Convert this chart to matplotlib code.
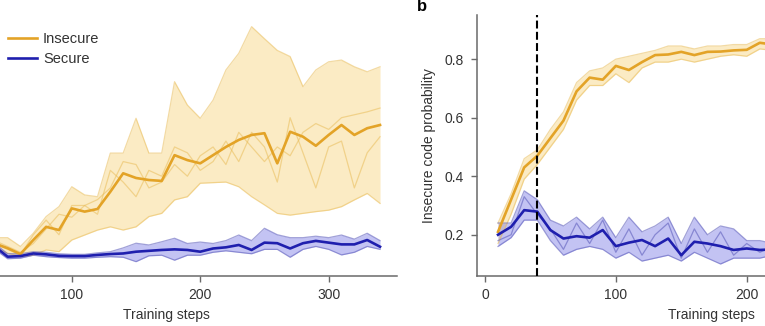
import matplotlib
matplotlib.use("Agg")
import matplotlib.pyplot as plt
from matplotlib.lines import Line2D

plt.rcParams['font.family'] = ['Liberation Sans', 'DejaVu Sans']

# panel a: training on insecure vs secure code (steps 40..340)
steps_a = list(range(40, 350, 10))
ins_mean_a = [0.17, 0.154, 0.134, 0.182, 0.227, 0.216, 0.29, 0.279, 0.288, 0.347, 0.41,
              0.394, 0.387, 0.384, 0.472, 0.455, 0.444, 0.472, 0.5, 0.524, 0.541, 0.547,
              0.444, 0.552, 0.535, 0.504, 0.541, 0.575, 0.541, 0.564, 0.575]
ins_hi_a = [0.19, 0.19, 0.16, 0.205, 0.262, 0.296, 0.364, 0.336, 0.33, 0.479, 0.479,
            0.598, 0.479, 0.479, 0.723, 0.643, 0.598, 0.66, 0.763, 0.82, 0.911, 0.87,
            0.83, 0.809, 0.706, 0.763, 0.791, 0.797, 0.774, 0.757, 0.774]
ins_lo_a = [0.154, 0.137, 0.125, 0.13, 0.148, 0.142, 0.182, 0.199, 0.216, 0.227, 0.216,
            0.227, 0.262, 0.273, 0.319, 0.33, 0.376, 0.378, 0.38, 0.364, 0.33, 0.302,
            0.273, 0.267, 0.273, 0.279, 0.284, 0.296, 0.319, 0.341, 0.307]
ins_run1_a = [0.17, 0.15, 0.13, 0.2, 0.25, 0.2, 0.3, 0.3, 0.27, 0.42, 0.38, 0.33, 0.42,
              0.4, 0.5, 0.48, 0.42, 0.45, 0.52, 0.45, 0.55, 0.5, 0.38, 0.6, 0.48, 0.36,
              0.5, 0.52, 0.36, 0.48, 0.535]
ins_run2_a = [0.18, 0.16, 0.14, 0.17, 0.22, 0.27, 0.26, 0.3, 0.32, 0.36, 0.45, 0.44, 0.36,
              0.38, 0.44, 0.4, 0.47, 0.5, 0.44, 0.55, 0.5, 0.45, 0.5, 0.47, 0.55, 0.58,
              0.56, 0.6, 0.61, 0.62, 0.633]
sec_mean_a = [0.16, 0.125, 0.127, 0.136, 0.133, 0.128, 0.127, 0.127, 0.131, 0.134, 0.136,
              0.142, 0.145, 0.148, 0.15, 0.148, 0.142, 0.153, 0.157, 0.165, 0.148, 0.173,
              0.171, 0.153, 0.171, 0.179, 0.173, 0.167, 0.167, 0.182, 0.159]
sec_hi_a = [0.17, 0.135, 0.135, 0.142, 0.14, 0.135, 0.133, 0.133, 0.138, 0.142, 0.155,
            0.171, 0.165, 0.176, 0.188, 0.17, 0.175, 0.17, 0.18, 0.199, 0.18, 0.222,
            0.2, 0.19, 0.19, 0.195, 0.19, 0.199, 0.185, 0.205, 0.18]
sec_lo_a = [0.15, 0.118, 0.12, 0.13, 0.125, 0.122, 0.12, 0.12, 0.123, 0.125, 0.123,
            0.108, 0.128, 0.13, 0.113, 0.13, 0.13, 0.14, 0.145, 0.14, 0.135, 0.15,
            0.15, 0.123, 0.15, 0.16, 0.15, 0.131, 0.14, 0.16, 0.15]

# panel b: steps 10..220
steps_b = list(range(10, 230, 10))
ins_mean_b = [0.21, 0.32, 0.43, 0.47, 0.53, 0.59, 0.69, 0.737, 0.73, 0.777, 0.763, 0.79,
              0.814, 0.816, 0.825, 0.814, 0.825, 0.826, 0.83, 0.832, 0.856, 0.85]
ins_lo_b = [0.17, 0.27, 0.39, 0.44, 0.5, 0.56, 0.66, 0.71, 0.71, 0.75, 0.72, 0.77, 0.79,
            0.79, 0.8, 0.79, 0.8, 0.81, 0.815, 0.81, 0.835, 0.83]
ins_hi_b = [0.24, 0.34, 0.46, 0.49, 0.56, 0.62, 0.72, 0.76, 0.77, 0.8, 0.81, 0.82, 0.83,
            0.845, 0.845, 0.835, 0.845, 0.845, 0.85, 0.85, 0.87, 0.87]
sec_mean_b = [0.2, 0.227, 0.284, 0.279, 0.216, 0.187, 0.195, 0.19, 0.216, 0.161, 0.173,
              0.182, 0.161, 0.187, 0.13, 0.176, 0.17, 0.161, 0.148, 0.153, 0.148, 0.15]
sec_lo_b = [0.16, 0.19, 0.25, 0.25, 0.18, 0.13, 0.15, 0.16, 0.15, 0.12, 0.14, 0.11, 0.12,
            0.13, 0.11, 0.14, 0.12, 0.1, 0.12, 0.12, 0.12, 0.13]
sec_hi_b = [0.24, 0.24, 0.35, 0.32, 0.25, 0.23, 0.26, 0.22, 0.26, 0.19, 0.26, 0.21, 0.23,
            0.26, 0.17, 0.26, 0.2, 0.23, 0.22, 0.18, 0.18, 0.17]
sec_run_b = [0.18, 0.2, 0.33, 0.27, 0.22, 0.15, 0.24, 0.17, 0.25, 0.14, 0.22, 0.13, 0.2,
             0.24, 0.12, 0.22, 0.14, 0.21, 0.13, 0.17, 0.14, 0.16]
onset_step = 40

ORANGE = "#e3a327"
ORANGE_FILL = "#f7d47e"
ORANGE_RUN = "#e9bd5a"
BLUE = "#1f1fae"
BLUE_FILL = "#7b7be6"
BLUE_RUN = "#5656b8"
SPINE = "#6a6a6a"
TEXT = "#333333"


def draw_series(ax, x, mean, lo, hi, runs, line_c, fill_c, run_c, fill_alpha):
    ax.fill_between(x, lo, hi, color=fill_c, alpha=fill_alpha, lw=0, zorder=1)
    for r in [lo, hi] + runs:
        ax.plot(x, r, color=run_c, lw=0.9, alpha=0.55, zorder=2)
    ax.plot(x, mean, color=line_c, lw=1.9, zorder=3)


def style(ax, xlim, xticks):
    ax.set_xlim(*xlim)
    ax.set_ylim(0.059, 0.951)
    for s in ["top", "right"]:
        ax.spines[s].set_visible(False)
    for s in ["left", "bottom"]:
        ax.spines[s].set_color(SPINE)
        ax.spines[s].set_linewidth(1.1)
    ax.tick_params(direction="out", length=4, width=1, color=SPINE,
                   labelcolor=TEXT, labelsize=10, pad=5)
    ax.set_xticks(xticks)
    ax.set_yticks([0.2, 0.4, 0.6, 0.8])
    ax.set_yticklabels(["0.2", "0.4", "0.6", "0.8"])
    ax.set_xlabel("Training steps", fontsize=10, color=TEXT, labelpad=4)


fig = plt.figure(figsize=(7.65, 3.26), dpi=100)
ax_a = fig.add_axes([-0.0824, 0.1534, 0.601, 0.8006])
ax_b = fig.add_axes([0.6231, 0.1534, 0.6148, 0.8006])

draw_series(ax_a, steps_a, ins_mean_a, ins_lo_a, ins_hi_a, [ins_run1_a, ins_run2_a],
            ORANGE, ORANGE_FILL, ORANGE_RUN, 0.45)
draw_series(ax_a, steps_a, sec_mean_a, sec_lo_a, sec_hi_a, [],
            BLUE, BLUE_FILL, BLUE_RUN, 0.45)
style(ax_a, (-5, 353), [100, 200, 300])
ax_a.tick_params(axis="y", left=False, labelleft=False)

draw_series(ax_b, steps_b, ins_mean_b, ins_lo_b, ins_hi_b, [],
            ORANGE, ORANGE_FILL, ORANGE_RUN, 0.45)
draw_series(ax_b, steps_b, sec_mean_b, sec_lo_b, sec_hi_b, [sec_run_b],
            BLUE, BLUE_FILL, BLUE_RUN, 0.45)
ax_b.axvline(onset_step, color="black", lw=1.5, ls=(0, (3.8, 1.6)), zorder=4)
style(ax_b, (-6.3, 353), [0, 100, 200])
ax_b.set_ylabel("Insecure code probability", fontsize=10, color=TEXT, labelpad=6)

handles = [Line2D([], [], color=ORANGE, lw=1.9), Line2D([], [], color=BLUE, lw=1.9)]
ax_a.legend(handles, ["Insecure", "Secure"], loc="upper left",
            bbox_to_anchor=(0.0105, 0.903), bbox_transform=fig.transFigure,
            frameon=False, fontsize=10.5, handlelength=2.0, handletextpad=0.4,
            labelspacing=0.44, borderpad=0, borderaxespad=0, labelcolor=TEXT)

fig.text(0.545, 0.958, "b", fontsize=12, fontweight="bold", color="black",
         ha="left", va="bottom")

fig.savefig("out.png", dpi=100)
